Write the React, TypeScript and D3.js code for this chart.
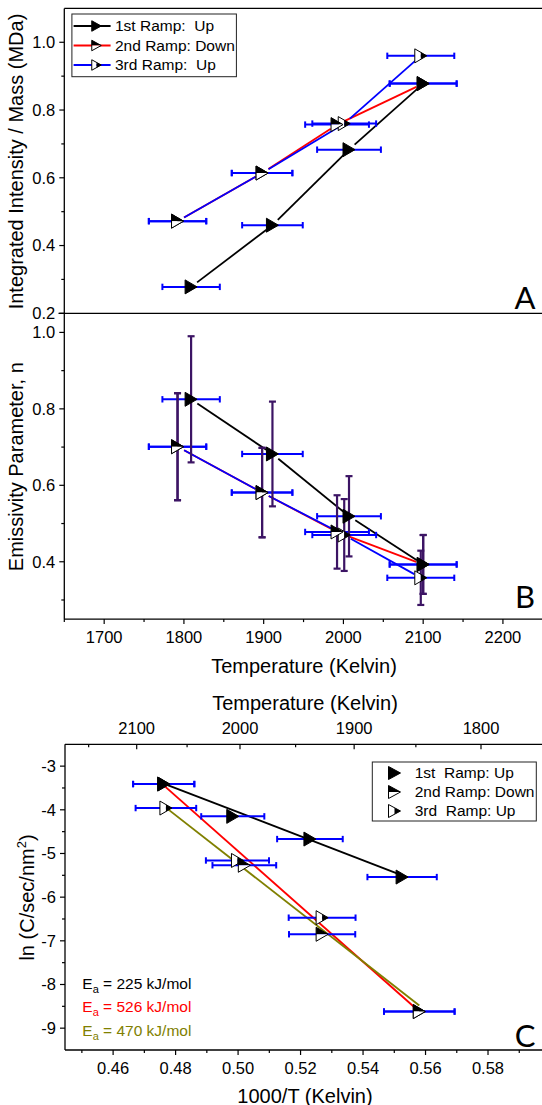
import React from 'react';
import * as d3 from 'd3';

// ---------- data ----------
// Panels A & B: temperature (K), x error (K), intensity/mass (MDa), emissivity n and its error
const ramp1T = [1809, 1911, 2007, 2100];
const ramp1TErr = [36, 38, 40, 42];
const ramp1Mass = [0.278, 0.46, 0.683, 0.878];
const ramp1N = [0.825, 0.682, 0.519, 0.393];
const ramp1NErr = [0.165, 0.137, 0.105, 0.077];

const ramp2T = [2100, 1992, 1898, 1792];
const ramp2TErr = [42, 40, 38, 36];
const ramp2Mass = [0.878, 0.757, 0.614, 0.472];
const ramp2N = [0.393, 0.478, 0.581, 0.701];
const ramp2NErr = [0.077, 0.096, 0.117, 0.14];

const ramp3T = [1792, 1898, 2001, 2097];
const ramp3TErr = [36, 38, 40, 42];
const ramp3Mass = [0.472, 0.614, 0.76, 0.96];
const ramp3N = [0.701, 0.581, 0.47, 0.358];
const ramp3NErr = [0.14, 0.117, 0.094, 0.071];

// Panel C: 1000/T, its error, ln(C/sec/nm^2)
const ramp1InvT = [0.4762, 0.4983, 0.523, 0.5525];
const ramp1InvTErr = [0.0098, 0.0101, 0.0105, 0.0111];
const ramp1Ln = [-3.41, -4.15, -4.67, -5.54];

const ramp2InvT = [0.4762, 0.502, 0.5269, 0.558];
const ramp2InvTErr = [0.0098, 0.0102, 0.0106, 0.0113];
const ramp2Ln = [-3.41, -5.27, -6.85, -8.62];

const ramp3InvT = [0.558, 0.5269, 0.4998, 0.4769];
const ramp3InvTErr = [0.0113, 0.0107, 0.0101, 0.0097];
const ramp3Ln = [-8.62, -6.47, -5.16, -3.96];

// Arrhenius fit lines (end points)
const fit1X = [0.4762, 0.5525];
const fit1Y = [-3.4, -5.5];
const fit2X = [0.4762, 0.558];
const fit2Y = [-3.44, -8.62];
const fit3X = [0.4769, 0.558];
const fit3Y = [-3.95, -8.48];

const eaLabels = ['225', '526', '470'];

// ticks
const aYMajor = [0.2, 0.4, 0.6, 0.8, 1.0];
const aYMinor = [0.3, 0.5, 0.7, 0.9];
const bYMajor = [0.4, 0.6, 0.8, 1.0];
const bYMinor = [0.3, 0.5, 0.7, 0.9];
const tempMajor = [1700, 1800, 1900, 2000, 2100, 2200];
const tempMinor = [1650, 1750, 1850, 1950, 2050, 2150, 2250];
const cYMajor = [-3, -4, -5, -6, -7, -8, -9];
const cYMinor = [-3.5, -4.5, -5.5, -6.5, -7.5, -8.5];
const cXMajor = [0.46, 0.48, 0.5, 0.52, 0.54, 0.56, 0.58];
const cXMinor = [0.45, 0.47, 0.49, 0.51, 0.53, 0.55, 0.57, 0.59];
const cTopMajor = [2100, 2000, 1900, 1800];
const cTopMinor = [2150, 2050, 1950, 1850];

const legendA = ['1st Ramp:  Up', '2nd Ramp: Down', '3rd Ramp:  Up'];
const legendC = ['1st  Ramp: Up', '2nd Ramp: Down', '3rd  Ramp: Up'];

// ---------- styles ----------
const FONT = "'Liberation Sans', Arial, Helvetica, sans-serif";
const LETTER_FONT = "Lato, 'Open Sans', sans-serif";
const BLUE = '#0000ff';
const RED = '#ff0000';
const OLIVE = '#808000';
const PURPLE = '#3c1464';
const TICK_FS = 16.5;
const TITLE_FS = 20;
const LEG_FS = 15.5;

// ---------- scales ----------
const xT = d3.scaleLinear().domain([1650, 2250]).range([64.3, 542.8]);
const yA = d3.scaleLinear().domain([0.2, 1.1]).range([313.3, 8.4]);
const yB = d3.scaleLinear().domain([0.25, 1.05]).range([619.1, 313.3]);
const xC = d3.scaleLinear().domain([0.4446, 0.5976]).range([65, 543]);
const yC = d3.scaleLinear().domain([-9.5, -2.5]).range([1050, 744.3]);
const xTop = d3.scaleLinear().domain([1000 / 2100, 1000 / 1800]).range([136.7, 481]);

type Pt = [number, number];

function Marker({ x, y, kind, w = 12, h = 14 }: { x: number; y: number; kind: number; w?: number; h?: number }) {
  const hw = w / 2, hh = h / 2;
  const outline = `M${x - hw},${y - hh}L${x + hw},${y}L${x - hw},${y + hh}Z`;
  if (kind === 1) return <path d={outline} fill="#000" stroke="#000" strokeWidth={1} />;
  if (kind === 2)
    return (
      <g>
        <path d={`M${x - hw},${y - hh}L${x + hw},${y}L${x - hw},${y}Z`} fill="#000" />
        <path d={`M${x - hw},${y}L${x + hw},${y}L${x - hw},${y + hh}Z`} fill="#fff" />
        <path d={outline} fill="none" stroke="#000" strokeWidth={1} />
      </g>
    );
  return (
    <g>
      <path d={`M${x - hw},${y - hh}L${x},${y - hh / 2}L${x},${y + hh / 2}L${x - hw},${y + hh}Z`} fill="#fff" />
      <path d={`M${x},${y - hh / 2}L${x + hw},${y}L${x},${y + hh / 2}Z`} fill="#000" />
      <path d={outline} fill="none" stroke="#000" strokeWidth={1} />
    </g>
  );
}

const lineGen = d3.line<Pt>().x((d) => d[0]).y((d) => d[1]);

function GapLine({ pts, color, gap = 7.5 }: { pts: Pt[]; color: string; gap?: number }) {
  const segs: string[] = [];
  for (let i = 0; i < pts.length - 1; i++) {
    const [x1, y1] = pts[i];
    const [x2, y2] = pts[i + 1];
    const dx = x2 - x1, dy = y2 - y1;
    const L = Math.hypot(dx, dy);
    if (L <= 2 * gap) continue;
    const ux = dx / L, uy = dy / L;
    segs.push(lineGen([[x1 + ux * gap, y1 + uy * gap], [x2 - ux * gap, y2 - uy * gap]]) as string);
  }
  return <g>{segs.map((d, i) => <path key={i} d={d} stroke={color} strokeWidth={1.8} fill="none" />)}</g>;
}

function XErr({ xs, errs, ys, sx, sy }: { xs: number[]; errs: number[]; ys: number[]; sx: any; sy: any }) {
  return (
    <g stroke={BLUE} strokeWidth={2} fill="none">
      {xs.map((v, i) => {
        const y = sy(ys[i]);
        const a = sx(v - errs[i]);
        const b = sx(v + errs[i]);
        return (
          <g key={i}>
            <line x1={a} x2={b} y1={y} y2={y} />
            <line x1={a} x2={a} y1={y - 3.2} y2={y + 3.2} />
            <line x1={b} x2={b} y1={y - 3.2} y2={y + 3.2} />
          </g>
        );
      })}
    </g>
  );
}

function YErr({ xs, ys, errs, sx, sy }: { xs: number[]; ys: number[]; errs: number[]; sx: any; sy: any }) {
  return (
    <g stroke={PURPLE} strokeWidth={2.2} fill="none">
      {xs.map((v, i) => {
        const x = sx(v);
        const a = sy(ys[i] - errs[i]);
        const b = sy(ys[i] + errs[i]);
        return (
          <g key={i}>
            <line x1={x} x2={x} y1={a} y2={b} />
            <line x1={x - 3.5} x2={x + 3.5} y1={a} y2={a} />
            <line x1={x - 3.5} x2={x + 3.5} y1={b} y2={b} />
          </g>
        );
      })}
    </g>
  );
}

function Markers({ xs, ys, sx, sy, kind }: { xs: number[]; ys: number[]; sx: any; sy: any; kind: number }) {
  return <g>{xs.map((v, i) => <Marker key={i} x={sx(v)} y={sy(ys[i])} kind={kind} />)}</g>;
}

function YAxisTicks({ x0, sy, major, minor, fmt }: { x0: number; sy: any; major: number[]; minor: number[]; fmt: (v: number) => string }) {
  return (
    <g>
      {major.map((v) => (
        <g key={'M' + v}>
          <line x1={x0 - 5} x2={x0} y1={sy(v)} y2={sy(v)} stroke="#000" strokeWidth={1.2} />
          <text x={x0 - 9} y={sy(v)} dy="0.35em" textAnchor="end" fontSize={TICK_FS} fontFamily={FONT} fill="#000">
            {fmt(v)}
          </text>
        </g>
      ))}
      {minor.map((v) => (
        <line key={'m' + v} x1={x0 - 3} x2={x0} y1={sy(v)} y2={sy(v)} stroke="#000" strokeWidth={1.2} />
      ))}
    </g>
  );
}

function XAxisTicks({ y0, sx, major, minor, fmt, dir, labelY }: { y0: number; sx: any; major: number[]; minor: number[]; fmt: (v: number) => string; dir: number; labelY: number }) {
  return (
    <g>
      {major.map((v) => (
        <g key={'M' + v}>
          <line x1={sx(v)} x2={sx(v)} y1={y0} y2={y0 + dir * 5} stroke="#000" strokeWidth={1.2} />
          <text x={sx(v)} y={labelY} textAnchor="middle" fontSize={TICK_FS} fontFamily={FONT} fill="#000">
            {fmt(v)}
          </text>
        </g>
      ))}
      {minor.map((v) => (
        <line key={'m' + v} x1={sx(v)} x2={sx(v)} y1={y0} y2={y0 + dir * 3} stroke="#000" strokeWidth={1.2} />
      ))}
    </g>
  );
}

const pts = (xs: number[], ys: number[], sx: any, sy: any): Pt[] => xs.map((v, i) => [sx(v), sy(ys[i])]);

export default function App() {
  const f1 = d3.format('.1f');
  const f2 = d3.format('.2f');
  const fi = (v: number) => String(v);
  const invT = (T: number) => xTop(1000 / T);
  const eaColors = ['#000', RED, OLIVE];
  const eaY = [988.5, 1012, 1035.5];
  const legRowsA = [26, 45.5, 65];
  const legRowsC = [773, 792, 811];
  const legColorsA = ['#000', RED, BLUE];

  return (
    <div style={{ position: 'absolute', left: 0, top: 0, width: 542, height: 1105, background: '#fff' }}>
      <svg width={542} height={1105} viewBox="0 0 542 1105" style={{ display: 'block' }}>
        <rect x={0} y={0} width={542} height={1105} fill="#fff" />

        {/* ---------- Panel A ---------- */}
        <g>
          <GapLine pts={pts(ramp2T, ramp2Mass, xT, yA)} color={RED} />
          <GapLine pts={pts(ramp3T, ramp3Mass, xT, yA)} color={BLUE} />
          <GapLine pts={pts(ramp1T, ramp1Mass, xT, yA)} color="#000" />
          <XErr xs={ramp3T} errs={ramp3TErr} ys={ramp3Mass} sx={xT} sy={yA} />
          <XErr xs={ramp2T} errs={ramp2TErr} ys={ramp2Mass} sx={xT} sy={yA} />
          <XErr xs={ramp1T} errs={ramp1TErr} ys={ramp1Mass} sx={xT} sy={yA} />
          <Markers xs={ramp3T} ys={ramp3Mass} sx={xT} sy={yA} kind={3} />
          <Markers xs={ramp2T} ys={ramp2Mass} sx={xT} sy={yA} kind={2} />
          <Markers xs={ramp1T} ys={ramp1Mass} sx={xT} sy={yA} kind={1} />

          <line x1={64.3} x2={542} y1={yA(1.1)} y2={yA(1.1)} stroke="#000" strokeWidth={1.3} />
          <line x1={58.5} x2={542} y1={yA(0.2)} y2={yA(0.2)} stroke="#000" strokeWidth={1.3} />
          <line x1={64.3} x2={64.3} y1={yA(1.1)} y2={yB(0.25)} stroke="#000" strokeWidth={1.3} />
          <YAxisTicks x0={64.3} sy={yA} major={aYMajor} minor={aYMinor} fmt={f1} />
          <text transform={`translate(22.5,${161.5}) rotate(-90)`} textAnchor="middle" fontSize={TITLE_FS} fontFamily={FONT} fill="#000">
            Integrated Intensity / Mass (MDa)
          </text>

          <rect x={71.9} y={14} width={164.5} height={62.7} fill="#fff" stroke="#222" strokeWidth={1} />
          {legendA.map((t, i) => (
            <g key={t}>
              <line x1={73.6} x2={110.6} y1={legRowsA[i]} y2={legRowsA[i]} stroke={legColorsA[i]} strokeWidth={1.8} />
              <Marker x={96.5} y={legRowsA[i]} kind={i + 1} w={9.5} h={10.5} />
              <text x={115} y={legRowsA[i]} dy="0.35em" fontSize={LEG_FS} fontFamily={FONT} fill="#000" style={{ whiteSpace: 'pre' }}>
                {t}
              </text>
            </g>
          ))}
          <text x={525} y={309.3} textAnchor="middle" fontSize={31} fontFamily={LETTER_FONT} fill="#000">
            A
          </text>
        </g>

        {/* ---------- Panel B ---------- */}
        <g>
          <GapLine pts={pts(ramp2T, ramp2N, xT, yB)} color={RED} />
          <GapLine pts={pts(ramp3T, ramp3N, xT, yB)} color={BLUE} />
          <GapLine pts={pts(ramp1T, ramp1N, xT, yB)} color="#000" />
          <XErr xs={ramp3T} errs={ramp3TErr} ys={ramp3N} sx={xT} sy={yB} />
          <XErr xs={ramp2T} errs={ramp2TErr} ys={ramp2N} sx={xT} sy={yB} />
          <XErr xs={ramp1T} errs={ramp1TErr} ys={ramp1N} sx={xT} sy={yB} />
          <YErr xs={ramp3T} ys={ramp3N} errs={ramp3NErr} sx={xT} sy={yB} />
          <YErr xs={ramp2T} ys={ramp2N} errs={ramp2NErr} sx={xT} sy={yB} />
          <YErr xs={ramp1T} ys={ramp1N} errs={ramp1NErr} sx={xT} sy={yB} />
          <Markers xs={ramp3T} ys={ramp3N} sx={xT} sy={yB} kind={3} />
          <Markers xs={ramp2T} ys={ramp2N} sx={xT} sy={yB} kind={2} />
          <Markers xs={ramp1T} ys={ramp1N} sx={xT} sy={yB} kind={1} />

          <line x1={64.3} x2={542} y1={yB(0.25)} y2={yB(0.25)} stroke="#000" strokeWidth={1.3} />
          <YAxisTicks x0={64.3} sy={yB} major={bYMajor} minor={bYMinor} fmt={f1} />
          <XAxisTicks y0={yB(0.25)} sx={xT} major={tempMajor} minor={tempMinor} fmt={fi} dir={1} labelY={643.2} />
          <text transform={`translate(22.5,${466.7}) rotate(-90)`} textAnchor="middle" fontSize={TITLE_FS} fontFamily={FONT} fill="#000">
            Emissivity Parameter, n
          </text>
          <text x={304} y={672.6} textAnchor="middle" fontSize={TITLE_FS} fontFamily={FONT} fill="#000">
            Temperature (Kelvin)
          </text>
          <text x={525} y={608.3} textAnchor="middle" fontSize={31} fontFamily={LETTER_FONT} fill="#000">
            B
          </text>
        </g>

        {/* ---------- Panel C ---------- */}
        <g>
          <path d={lineGen(pts(fit2X, fit2Y, xC, yC)) as string} stroke={RED} strokeWidth={1.9} fill="none" />
          <path d={lineGen(pts(fit3X, fit3Y, xC, yC)) as string} stroke={OLIVE} strokeWidth={1.9} fill="none" />
          <path d={lineGen(pts(fit1X, fit1Y, xC, yC)) as string} stroke="#000" strokeWidth={1.9} fill="none" />
          <XErr xs={ramp3InvT} errs={ramp3InvTErr} ys={ramp3Ln} sx={xC} sy={yC} />
          <XErr xs={ramp2InvT} errs={ramp2InvTErr} ys={ramp2Ln} sx={xC} sy={yC} />
          <XErr xs={ramp1InvT} errs={ramp1InvTErr} ys={ramp1Ln} sx={xC} sy={yC} />
          <Markers xs={ramp3InvT} ys={ramp3Ln} sx={xC} sy={yC} kind={3} />
          <Markers xs={ramp2InvT} ys={ramp2Ln} sx={xC} sy={yC} kind={2} />
          <Markers xs={ramp1InvT} ys={ramp1Ln} sx={xC} sy={yC} kind={1} />

          <line x1={65} x2={542} y1={yC(-2.5)} y2={yC(-2.5)} stroke="#000" strokeWidth={1.3} />
          <line x1={65} x2={542} y1={yC(-9.5)} y2={yC(-9.5)} stroke="#000" strokeWidth={1.3} />
          <line x1={65} x2={65} y1={yC(-2.5)} y2={yC(-9.5)} stroke="#000" strokeWidth={1.3} />
          <YAxisTicks x0={65} sy={yC} major={cYMajor} minor={cYMinor} fmt={fi} />
          <XAxisTicks y0={yC(-9.5)} sx={xC} major={cXMajor} minor={cXMinor} fmt={f2} dir={1} labelY={1074.2} />
          <XAxisTicks y0={yC(-2.5)} sx={invT} major={cTopMajor} minor={cTopMinor} fmt={fi} dir={1} labelY={733.6} />

          <text x={305} y={710} textAnchor="middle" fontSize={TITLE_FS} fontFamily={FONT} fill="#000">
            Temperature (Kelvin)
          </text>
          <text x={305} y={1102.5} textAnchor="middle" fontSize={TITLE_FS} fontFamily={FONT} fill="#000">
            1000/T (Kelvin)
          </text>
          <text transform={`translate(34,${897.5}) rotate(-90)`} textAnchor="middle" fontSize={TITLE_FS} fontFamily={FONT} fill="#000">
            ln (C/sec/nm<tspan dy={-8} fontSize={13}>2</tspan>
            <tspan dy={8}>)</tspan>
          </text>

          {eaLabels.map((v, i) => (
            <text key={v} x={82.3} y={eaY[i]} fontSize={LEG_FS} fontFamily={FONT} fill={eaColors[i]} style={{ whiteSpace: 'pre' }}>
              E<tspan dy={4} fontSize={11}>a</tspan>
              <tspan dy={-4}>{` = ${v} kJ/mol`}</tspan>
            </text>
          ))}

          <rect x={372.3} y={762} width={164} height={59} fill="#fff" stroke="#222" strokeWidth={1} />
          {legendC.map((t, i) => (
            <g key={t}>
              <Marker x={394.5} y={legRowsC[i]} kind={i + 1} w={12} h={13} />
              <text x={414.7} y={legRowsC[i]} dy="0.35em" fontSize={LEG_FS} fontFamily={FONT} fill="#000" style={{ whiteSpace: 'pre' }}>
                {t}
              </text>
            </g>
          ))}
          <text x={525} y={1046.7} textAnchor="middle" fontSize={31} fontFamily={LETTER_FONT} fill="#000">
            C
          </text>
        </g>
      </svg>
    </div>
  );
}
